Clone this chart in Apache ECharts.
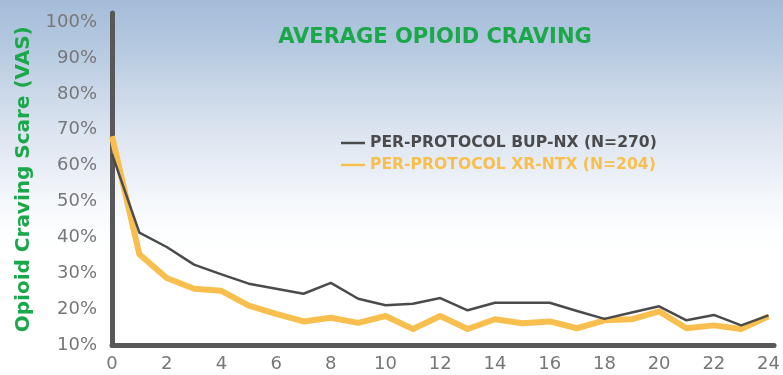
<!DOCTYPE html>
<html>
<head>
<meta charset="utf-8">
<script src="https://cdn.jsdelivr.net/npm/echarts@6/dist/echarts.min.js"></script>
<style>
  html, body { margin: 0; padding: 0; }
  #chart { width: 783px; height: 375px; }
</style>
</head>
<body>
<div id="chart"></div>
<script>
// Weeks since start of treatment
const weeks = [0,1,2,3,4,5,6,7,8,9,10,11,12,13,14,15,16,17,18,19,20,21,22,23,24];

// Mean craving score (%) per week
const bupNx = [63.3,41.4,37.4,32.5,29.8,27.2,25.8,24.4,27.4,23.0,21.2,21.6,23.2,19.8,21.9,21.9,21.9,19.6,17.4,19.2,20.9,17.0,18.5,15.6,18.4];
const xrNtx = [68.2,35.4,28.8,25.8,25.2,21.1,18.8,16.7,17.7,16.3,18.2,14.6,18.2,14.6,17.3,16.2,16.7,14.8,17.0,17.3,19.5,14.8,15.6,14.6,18.1];

const seriesNames = ['PER-PROTOCOL BUP-NX (N=270)', 'PER-PROTOCOL XR-NTX (N=204)'];
const yTicks = [10,20,30,40,50,60,70,80,90,100];

const GRAY = '#4b4b4d';
const GOLD = '#f8bf4f';
const GREEN = '#1aa84b';
const AXIS = '#58585a';
const TICK = '#77777a';
const FONT = 'DejaVu Sans';

const chart = echarts.init(document.getElementById('chart'));
chart.setOption({
  animation: false,
  backgroundColor: {
    type: 'linear', x: 0, y: 0, x2: 0, y2: 1,
    colorStops: [
      { offset: 0, color: '#a5bcd9' },
      { offset: 0.12, color: '#b4c8df' },
      { offset: 0.22, color: '#c6d5e7' },
      { offset: 0.34, color: '#dae3ef' },
      { offset: 0.45, color: '#e9eef6' },
      { offset: 0.54, color: '#f5f8fc' },
      { offset: 0.63, color: '#fdfeff' },
      { offset: 0.68, color: '#ffffff' },
      { offset: 1, color: '#ffffff' }
    ]
  },
  title: {
    text: 'AVERAGE OPIOID CRAVING',
    left: 430, top: 22, textAlign: 'center',
    textStyle: { color: GREEN, fontFamily: FONT, fontWeight: 'bold', fontSize: 21 }
  },
  legend: {
    left: 336, top: 130, orient: 'vertical', itemGap: 6,
    itemWidth: 24, itemHeight: 12,
    icon: 'path://M0,5 L24,5 L24,7.5 L0,7.5 Z',
    data: [
      { name: seriesNames[0], textStyle: { color: GRAY } },
      { name: seriesNames[1], textStyle: { color: GOLD } }
    ],
    textStyle: { fontFamily: FONT, fontWeight: 'bold', fontSize: 15.6 }
  },
  grid: { left: 112, right: 7.5, top: 13, bottom: 29.5 },
  xAxis: {
    type: 'value', min: 0, max: 24.2, interval: 2,
    axisLine: { show: true, lineStyle: { color: AXIS, width: 5 } },
    axisTick: { show: false },
    splitLine: { show: false },
    axisLabel: { showMaxLabel: false, color: TICK, fontFamily: FONT, fontSize: 18, margin: 10 }
  },
  yAxis: {
    type: 'value', min: 10, max: 102.5, interval: 10,
    name: 'Opioid Craving Scare (VAS)',
    nameLocation: 'middle', nameGap: 78,
    nameTextStyle: { color: GREEN, fontFamily: FONT, fontWeight: 'bold', fontSize: 20 },
    axisLine: { show: true, lineStyle: { color: AXIS, width: 5 } },
    axisTick: { show: false },
    splitLine: { show: false },
    axisLabel: {
      showMaxLabel: false, color: TICK, fontFamily: FONT, fontSize: 18, margin: 15,
      formatter: v => (yTicks.indexOf(v) >= 0 ? v + '%' : '')
    }
  },
  series: [
    {
      name: seriesNames[1], type: 'line', z: 2,
      data: weeks.map((w, i) => [w, xrNtx[i]]),
      showSymbol: false,
      lineStyle: { color: GOLD, width: 6, join: 'round' },
      itemStyle: { color: GOLD }
    },
    {
      name: seriesNames[0], type: 'line', z: 3,
      data: weeks.map((w, i) => [w, bupNx[i]]),
      showSymbol: false,
      lineStyle: { color: GRAY, width: 2.5, join: 'round' },
      itemStyle: { color: GRAY }
    }
  ]
});
</script>
</body>
</html>
